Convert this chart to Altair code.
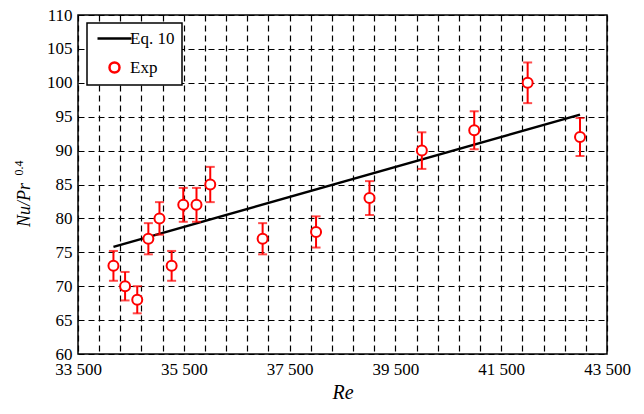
import altair as alt
import pandas as pd

re_exp = [34170, 34390, 34620, 34830, 35040, 35270, 35490, 35740, 36000,
          36990, 38000, 39010, 40000, 40990, 42000, 42990]
nu_exp = [73, 70, 68, 77, 80, 73, 82, 82, 85, 77, 78, 83, 90, 93, 100, 92]
err_exp = [2.2, 2.1, 2.0, 2.3, 2.4, 2.2, 2.5, 2.5, 2.6, 2.3, 2.3, 2.5, 2.7, 2.8, 3.0, 2.8]

# Eq. 10 correlation line (end points)
re_eq = [34170, 42990]
nu_eq = [75.8, 95.3]

series_names = ["Eq. 10", "Exp"]
x_ticks = list(range(33500, 43501, 400))
x_major = [33500, 35500, 37500, 39500, 41500, 43500]
y_ticks = [60, 65, 70, 75, 80, 85, 90, 95, 100, 105, 110]

FONT = "Liberation Serif"

exp_df = pd.DataFrame({
    "Re": re_exp, "Nu": nu_exp,
    "lo": [v - e for v, e in zip(nu_exp, err_exp)],
    "hi": [v + e for v, e in zip(nu_exp, err_exp)],
    "series": ["Exp"] * len(re_exp),
})
eq_df = pd.DataFrame({"Re": re_eq, "Nu": nu_eq})

xscale = alt.Scale(domain=[33500, 43500], nice=False, zero=False)
yscale = alt.Scale(domain=[60, 110], nice=False, zero=False)

major_test = " || ".join(f"datum.value == {v}" for v in x_major)
x_axis = alt.Axis(
    values=x_ticks, tickCount=len(x_ticks) + 5,
    labelExpr=f"({major_test}) ? replace(format(datum.value, ',d'), ',', ' ') : ''",
    title="Re", titleFontStyle="italic", titleFontWeight="normal",
    titleFontSize=20, titlePadding=5,
    labelFontSize=17, labelPadding=7, ticks=False, domain=False,
    labelOverlap=False, labelFlush=False, labelBound=False,
)
y_axis = alt.Axis(
    values=y_ticks, tickCount=len(y_ticks) + 5, title=None, labelFontSize=17, labelPadding=6,
    ticks=False, domain=False, labelOverlap=False, labelFlush=False,
)

circle_path = "M-1,0A1,1 0 1,0 1,0A1,1 0 1,0 -1,0Z"
line_path = "M-3.4,0L3.4,0"

line = alt.Chart(eq_df).mark_line(color="black", strokeWidth=2.5).encode(
    x=alt.X("Re:Q", scale=xscale, axis=x_axis),
    y=alt.Y("Nu:Q", scale=yscale, axis=y_axis),
)

bars = alt.Chart(exp_df).mark_rule(color="red", strokeWidth=2).encode(
    x=alt.X("Re:Q", scale=xscale),
    y=alt.Y("lo:Q", scale=yscale),
    y2="hi:Q",
)
cap_lo = alt.Chart(exp_df).mark_tick(color="red", orient="horizontal", size=9, thickness=2).encode(
    x=alt.X("Re:Q", scale=xscale), y=alt.Y("lo:Q", scale=yscale))
cap_hi = alt.Chart(exp_df).mark_tick(color="red", orient="horizontal", size=9, thickness=2).encode(
    x=alt.X("Re:Q", scale=xscale), y=alt.Y("hi:Q", scale=yscale))

legend = alt.Legend(
    title=None, orient="none", legendX=9, legendY=8,
    fillColor="white", strokeColor="black", cornerRadius=0,
    padding=7, rowPadding=10, symbolOffset=12, labelOffset=7,
    labelFont=FONT, labelFontSize=17, labelColor="black",
    symbolSize=100, symbolStrokeWidth=2.5, symbolFillColor="white",
)

points = alt.Chart(exp_df).mark_point(
    filled=False, fill="white", fillOpacity=1, size=100, strokeWidth=2, opacity=1
).encode(
    x=alt.X("Re:Q", scale=xscale),
    y=alt.Y("Nu:Q", scale=yscale),
    shape=alt.Shape("series:N", scale=alt.Scale(domain=series_names, range=[line_path, circle_path]), legend=legend),
    color=alt.Color("series:N", scale=alt.Scale(domain=series_names, range=["black", "red"]), legend=legend),
)

ytitle_main = alt.Chart(pd.DataFrame({"t": ["Nu/Pr"]})).mark_text(
    angle=270, font=FONT, fontSize=18, fontStyle="italic", align="center", baseline="middle", color="black"
).encode(text="t:N", x=alt.value(-53), y=alt.value(190))
ytitle_sup = alt.Chart(pd.DataFrame({"t": ["0.4"]})).mark_text(
    angle=270, font=FONT, fontSize=12, align="center", baseline="middle", color="black"
).encode(text="t:N", x=alt.value(-59), y=alt.value(153))

chart = alt.layer(line, bars, cap_lo, cap_hi, points, ytitle_main, ytitle_sup).properties(
    width=529, height=339,
    autosize=alt.AutoSizeParams(type="none"),
    padding={"left": 78, "top": 15, "right": 37, "bottom": 60},
    background="white",
).configure_axis(
    labelFont=FONT, titleFont=FONT, labelColor="black", titleColor="black",
    grid=True, gridColor="black", gridDash=[6, 4], gridWidth=1.2, gridOpacity=1,
    labelOverlap=False,
).configure_legend(
    strokeWidth=1.5,
).configure_view(
    stroke="black", strokeWidth=1.5, fill="white",
)

chart.save("out.html", embed_options={"renderer": "svg", "actions": False})
